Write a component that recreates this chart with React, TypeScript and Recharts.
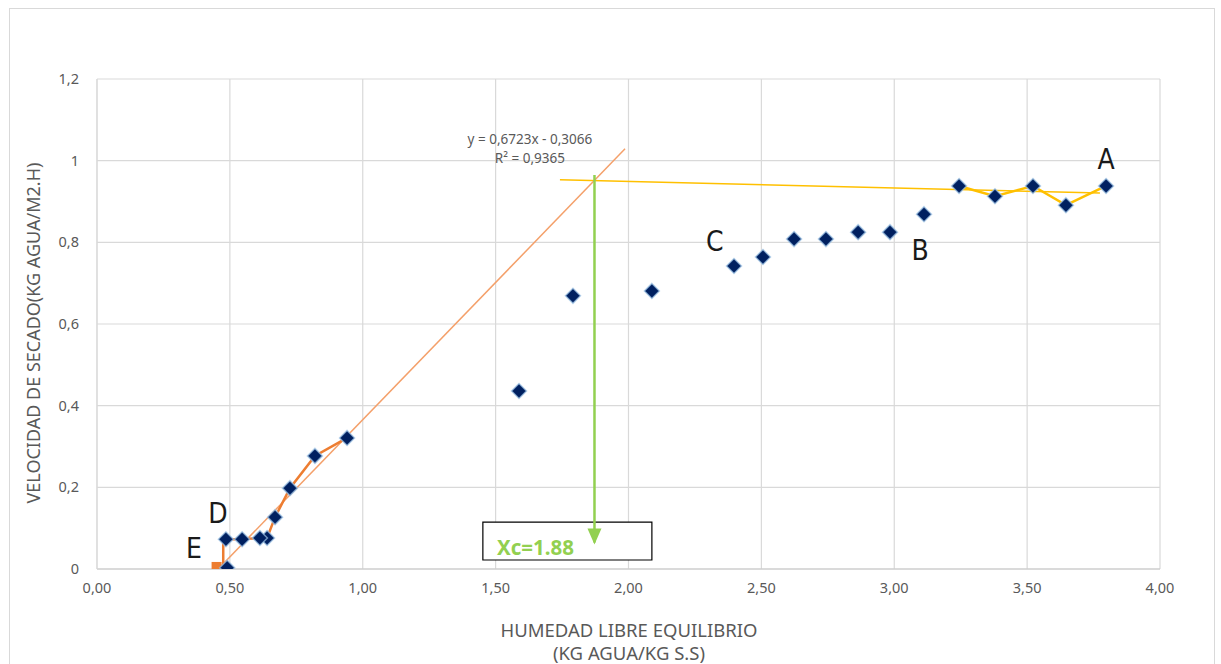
import React from 'react';
import { ComposedChart, Scatter, XAxis, YAxis, CartesianGrid, ReferenceArea } from 'recharts';

// Measured data points (humedad libre, velocidad de secado)
const points = [
  { x: 3.797, y: 0.938 },
  { x: 3.646, y: 0.891 },
  { x: 3.522, y: 0.938 },
  { x: 3.379, y: 0.913 },
  { x: 3.244, y: 0.938 },
  { x: 3.112, y: 0.869 },
  { x: 2.984, y: 0.825 },
  { x: 2.864, y: 0.825 },
  { x: 2.743, y: 0.808 },
  { x: 2.623, y: 0.808 },
  { x: 2.506, y: 0.764 },
  { x: 2.397, y: 0.742 },
  { x: 2.088, y: 0.681 },
  { x: 1.791, y: 0.669 },
  { x: 1.588, y: 0.436 },
  { x: 0.941, y: 0.321 },
  { x: 0.82, y: 0.277 },
  { x: 0.726, y: 0.198 },
  { x: 0.67, y: 0.127 },
  { x: 0.64, y: 0.076 },
  { x: 0.613, y: 0.076 },
  { x: 0.546, y: 0.073 },
  { x: 0.485, y: 0.073 },
  { x: 0.49, y: 0.003 },
];

// Constant-rate segment (A - B), yellow polyline
const yellowPath = [
  { x: 3.797, y: 0.938 },
  { x: 3.646, y: 0.891 },
  { x: 3.522, y: 0.938 },
  { x: 3.379, y: 0.913 },
  { x: 3.244, y: 0.938 },
];

// Yellow trend line
const yellowTrend = [
  { x: 1.742, y: 0.953 },
  { x: 3.774, y: 0.921 },
];

// Falling-rate segment (D - E), orange polyline
const orangePath = [
  { x: 0.941, y: 0.321 },
  { x: 0.82, y: 0.277 },
  { x: 0.726, y: 0.198 },
  { x: 0.67, y: 0.127 },
  { x: 0.64, y: 0.076 },
  { x: 0.613, y: 0.076 },
  { x: 0.546, y: 0.073 },
  { x: 0.485, y: 0.073 },
  { x: 0.475, y: 0.073 },
  { x: 0.475, y: 0.005 },
  { x: 0.45, y: 0.005 },
];

const orangeEnd = [{ x: 0.45, y: 0.005 }];

// Orange linear trend: y = 0,6723x - 0,3066
const orangeTrend = [
  { x: 0.456, y: 0.0 },
  { x: 1.987, y: 1.029 },
];

// Critical moisture arrow
const greenArrow = [
  { x: 1.872, y: 0.965 },
  { x: 1.872, y: 0.065 },
];

const letterLabels = [
  { x: 3.797, y: 1.002, text: 'A' },
  { x: 3.097, y: 0.781, text: 'B' },
  { x: 2.325, y: 0.801, text: 'C' },
  { x: 0.455, y: 0.137, text: 'D' },
  { x: 0.365, y: 0.051, text: 'E' },
];

const equationLabels = [
  { x: 1.629, y: 1.054, text: 'y = 0,6723x - 0,3066' },
  { x: 1.629, y: 1.007, text: 'R² = 0,9365' },
];

const xcLabel = [{ x: 1.505, y: 0.054, text: 'Xc=1.88' }];
const xcBox = { x1: 1.452, x2: 2.088, y1: 0.022, y2: 0.115 };

const xTicks = [0, 0.5, 1, 1.5, 2, 2.5, 3, 3.5, 4];
const yTicks = [0, 0.2, 0.4, 0.6, 0.8, 1, 1.2];

const Diamond = (props: any) => {
  const { cx, cy } = props;
  if (cx == null || cy == null) return null;
  const r = 7.5;
  return (
    <polygon
      points={`${cx},${cy - r} ${cx + r},${cy} ${cx},${cy + r} ${cx - r},${cy}`}
      fill="#002060"
      stroke="#9dc3e6"
      strokeOpacity={0.7}
      strokeWidth={1.5}
    />
  );
};

const Nothing = () => null;

const SquareMark = (props: any) => {
  const { cx, cy } = props;
  if (cx == null || cy == null) return null;
  return <rect x={cx - 5} y={cy - 5} width={10} height={10} fill="#ed7d31" />;
};

const ArrowHead = (props: any) => {
  const { cx, cy, index } = props;
  if (cx == null || cy == null || index !== 1) return null;
  return <polygon points={`${cx - 7},${cy - 14} ${cx + 7},${cy - 14} ${cx},${cy + 2}`} fill="#92d050" />;
};

const makeText = (size: number, color: string, family: string, weight: any, anchor: any) => (props: any) => {
  const { cx, cy, payload } = props;
  if (cx == null || cy == null) return null;
  return (
    <text
      x={cx}
      y={cy}
      textAnchor={anchor}
      dominantBaseline="central"
      fontSize={size}
      fill={color}
      fontFamily={family}
      fontWeight={weight}
    >
      {payload.text}
    </text>
  );
};

const LetterText = makeText(28, '#1a1a1a', "'Liberation Sans Narrow', 'DejaVu Sans Condensed', sans-serif", 400, 'middle');
const EqText = makeText(13.5, '#595959', "'Noto Sans', sans-serif", 400, 'middle');
const XcText = makeText(20.5, '#92d050', "'Noto Sans', sans-serif", 700, 'start');

const fmtX = (v: number) => v.toFixed(2).replace('.', ',');
const fmtY = (v: number) => (Number.isInteger(v) ? String(v) : v.toFixed(1).replace('.', ','));

export default function App() {
  React.useEffect(() => {
    document.body.style.margin = '0';
  }, []);
  const font = "'Noto Sans', 'Liberation Sans', Arial, sans-serif";
  return (
    <div style={{ position: 'relative', width: 1221, height: 664, background: '#fff', overflow: 'hidden', fontFamily: font }}>
      <div
        style={{
          position: 'absolute',
          left: 9,
          top: 8,
          width: 1206,
          height: 700,
          border: '1px solid #d9d9d9',
          boxSizing: 'border-box',
        }}
      />
      <ComposedChart
        width={1221}
        height={664}
        margin={{ top: 79, right: 61, left: 0, bottom: 0 }}
        style={{ position: 'absolute', left: 0, top: 0 }}
      >
        <CartesianGrid stroke="#d9d9d9" strokeWidth={1.2} />
        <XAxis
          type="number"
          dataKey="x"
          domain={[0, 4]}
          ticks={xTicks}
          tickFormatter={fmtX}
          height={95}
          tickSize={0}
          tickMargin={14}
          axisLine={{ stroke: '#c8c8c8' }}
          tick={{ fill: '#595959', fontSize: 14.5, fontFamily: font }}
          allowDataOverflow
        />
        <YAxis
          type="number"
          dataKey="y"
          domain={[0, 1.2]}
          ticks={yTicks}
          tickFormatter={fmtY}
          width={97}
          tickSize={0}
          tickMargin={18}
          axisLine={{ stroke: '#d9d9d9' }}
          tick={{ fill: '#595959', fontSize: 14.5, fontFamily: font }}
          allowDataOverflow
        />
        <ReferenceArea
          x1={xcBox.x1}
          x2={xcBox.x2}
          y1={xcBox.y1}
          y2={xcBox.y2}
          fill="#ffffff"
          fillOpacity={1}
          stroke="#000000"
          strokeWidth={1.2}
        />
        <Scatter data={yellowTrend} line={{ stroke: '#ffc000', strokeWidth: 1.5 }} shape={<Nothing />} isAnimationActive={false} />
        <Scatter data={orangeTrend} line={{ stroke: '#f4a06a', strokeWidth: 1.5 }} shape={<Nothing />} isAnimationActive={false} />
        <Scatter data={yellowPath} line={{ stroke: '#ffc000', strokeWidth: 2.5 }} shape={<Nothing />} isAnimationActive={false} />
        <Scatter data={orangePath} line={{ stroke: '#ed7d31', strokeWidth: 2.5 }} shape={<Nothing />} isAnimationActive={false} />
        <Scatter data={orangeEnd} shape={<SquareMark />} isAnimationActive={false} />
        <Scatter data={points} shape={<Diamond />} isAnimationActive={false} />
        <Scatter data={greenArrow} line={{ stroke: '#92d050', strokeWidth: 2.5 }} shape={<ArrowHead />} isAnimationActive={false} />
        <Scatter data={letterLabels} shape={<LetterText />} isAnimationActive={false} />
        <Scatter data={equationLabels} shape={<EqText />} isAnimationActive={false} />
        <Scatter data={xcLabel} shape={<XcText />} isAnimationActive={false} />
      </ComposedChart>
      <div
        style={{
          position: 'absolute',
          left: 33,
          top: 333,
          transform: 'translate(-50%, -50%) rotate(-90deg)',
          whiteSpace: 'nowrap',
          fontSize: 18,
          color: '#595959',
          pointerEvents: 'none',
        }}
      >
        VELOCIDAD DE SECADO(KG AGUA/M2.H)
      </div>
      <div
        style={{
          position: 'absolute',
          left: 429,
          width: 400,
          top: 618,
          textAlign: 'center',
          fontSize: 18.5,
          lineHeight: '23px',
          color: '#595959',
        }}
      >
        HUMEDAD LIBRE EQUILIBRIO
        <br />
        (KG AGUA/KG S.S)
      </div>
    </div>
  );
}
